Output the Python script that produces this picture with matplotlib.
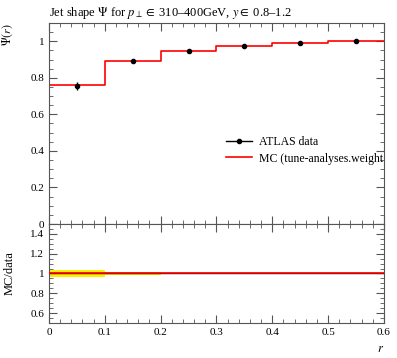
import numpy as np
import matplotlib
matplotlib.use("Agg")
import matplotlib.pyplot as plt
from matplotlib.ticker import MultipleLocator
from matplotlib.lines import Line2D

plt.rcParams['font.family'] = ['Liberation Serif', 'DejaVu Serif']
plt.rcParams['mathtext.fontset'] = 'stix'

# bins in r
edges = [0.0, 0.1, 0.2, 0.3, 0.4, 0.5, 0.6]
centers = [0.05, 0.15, 0.25, 0.35, 0.45, 0.55]

# ATLAS data
data_y = [0.755, 0.893, 0.948, 0.976, 0.991, 0.999]
data_err = [0.020, 0.006, 0.004, 0.003, 0.002, 0.001]

# MC prediction
mc_y = [0.760, 0.893, 0.946, 0.975, 0.990, 1.000]

# ratio MC/data and data band
ratio_mc = [1.0, 1.0, 1.0, 1.0, 1.0, 1.0]
band_err = [0.035, 0.012, 0.006, 0.004, 0.002, 0.001]

fig = plt.figure(figsize=(3.97, 3.58), dpi=100)
ax = fig.add_axes([0.1234, 0.3743, 0.8438, 0.5615])
rax = fig.add_axes([0.1234, 0.0978, 0.8438, 0.2765], sharex=ax)

def step(vals):
    return np.append(vals, vals[-1])

# main panel
ax.step(edges, step(mc_y), where='post', color='red', lw=1.2, zorder=2)
ax.errorbar(centers, data_y, yerr=data_err, fmt='o', color='black',
            ms=3, elinewidth=1, capsize=0, zorder=3)
ax.set_xlim(0, 0.6)
ax.set_ylim(0, 1.1)
ax.yaxis.set_minor_locator(MultipleLocator(0.05))
ax.xaxis.set_major_locator(MultipleLocator(0.1))
ax.xaxis.set_minor_locator(MultipleLocator(0.02))
ax.set_yticks([0, 0.2, 0.4, 0.6, 0.8, 1.0])
ax.set_yticklabels(['0', '0.2', '0.4', '0.6', '0.8', '1'])
ax.tick_params(labelbottom=False)

h1 = Line2D([], [], color='black', marker='o', ms=3, lw=1)
h2 = Line2D([], [], color='red', lw=1.2)
ax.legend([h1, h2], ['ATLAS data', 'MC (tune-analyses.weight'],
          loc='upper left', bbox_to_anchor=(0.51, 0.465), frameon=False,
          fontsize=8.5, handlelength=2.2, handletextpad=0.6,
          labelspacing=0.35, borderpad=0)

ax.set_title(r'Jet shape $\Psi$ for $p_\perp \in$ 310–400GeV, $y \in$ 0.8–1.2',
             loc='left', fontsize=9, pad=5)
ax.set_ylabel(r'$\Psi(r)$', fontsize=8.5)
ax.yaxis.set_label_coords(-0.1, 1.0)
ax.yaxis.label.set_horizontalalignment('right')

# ratio panel
rax.fill_between(edges, step([1 - e for e in band_err]), step([1 + e for e in band_err]),
                 step='post', color='#ffee00', lw=0, zorder=1)
rax.step(edges, step([1.0] * 6), where='post', color='black', lw=1, zorder=2)
rax.step(edges, step(ratio_mc), where='post', color='red', lw=1.2, zorder=3)
rax.set_ylim(0.5, 1.5)
rax.set_yticks([0.6, 0.8, 1.0, 1.2, 1.4])
rax.set_yticklabels(['0.6', '0.8', '1', '1.2', '1.4'])
rax.yaxis.set_minor_locator(MultipleLocator(0.05))
rax.set_xticks([0, 0.1, 0.2, 0.3, 0.4, 0.5, 0.6])
rax.set_xticklabels(['0', '0.1', '0.2', '0.3', '0.4', '0.5', '0.6'])
rax.set_ylabel('MC/data', fontsize=9)
rax.yaxis.set_label_coords(-0.1, 0.5)
rax.set_xlabel(r'$r$', fontsize=9)
rax.xaxis.set_label_coords(1.0, -0.2)
rax.xaxis.label.set_horizontalalignment('right')

for a in (ax, rax):
    a.tick_params(which='both', direction='in', top=True, right=True,
                  labelsize=8, color='#555555')
    a.tick_params(which='major', length=6)
    a.tick_params(which='minor', length=3)
    for s in a.spines.values():
        s.set_color('#555555')
        s.set_linewidth(0.8)

fig.savefig('out.png', dpi=100)
